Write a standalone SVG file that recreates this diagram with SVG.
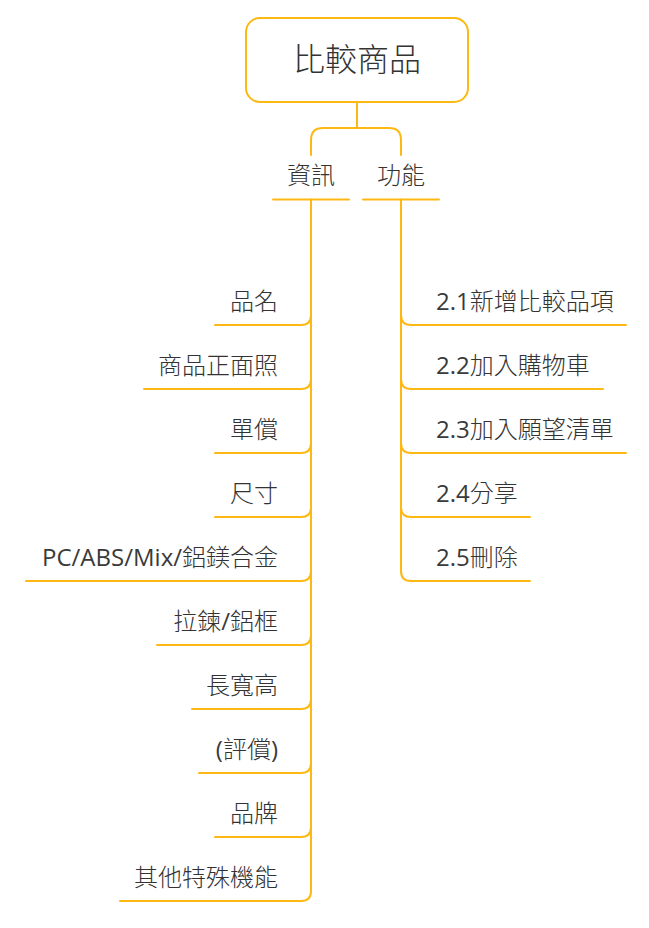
<svg xmlns="http://www.w3.org/2000/svg" width="649" height="928" viewBox="0 0 649 928">
<style>
.ln{fill:none;stroke:#FDB813;stroke-width:2;stroke-linecap:round}
.t{font-family:"Open Sans","Noto Sans CJK TC",sans-serif;font-size:24px;font-weight:300;fill:#333333}
.l{font-weight:400;fill:#3a3a3a}
.r{text-anchor:end}
.root{font-size:32px;text-anchor:middle}
.c{text-anchor:middle}
</style>
<rect width="649" height="928" fill="#ffffff"/>
<g id="connectors">
<path class="ln" d="M357,102 V128"/>
<path class="ln" d="M311,155 V140 Q311,128 323,128 H389 Q401,128 401,140 V155"/>
<path class="ln" d="M311,199.5 V891 Q311,901 301,901 H120"/>
<path class="ln" d="M311,315 Q311,325 301,325 H215"/>
<path class="ln" d="M311,379 Q311,389 301,389 H144"/>
<path class="ln" d="M311,443 Q311,453 301,453 H215"/>
<path class="ln" d="M311,507 Q311,517 301,517 H215"/>
<path class="ln" d="M311,571 Q311,581 301,581 H26"/>
<path class="ln" d="M311,635 Q311,645 301,645 H157"/>
<path class="ln" d="M311,699 Q311,709 301,709 H192"/>
<path class="ln" d="M311,763 Q311,773 301,773 H199"/>
<path class="ln" d="M311,827 Q311,837 301,837 H215"/>
<path class="ln" d="M401,199.5 V571 Q401,581 411,581 H530"/>
<path class="ln" d="M401,315 Q401,325 411,325 H626"/>
<path class="ln" d="M401,379 Q401,389 411,389 H603"/>
<path class="ln" d="M401,443 Q401,453 411,453 H626"/>
<path class="ln" d="M401,507 Q401,517 411,517 H530"/>
</g>
<g id="root">
<rect x="246" y="18" width="222" height="84" rx="14" fill="#ffffff" stroke="#FDB813" stroke-width="2"/>
<text class="t root" x="357" y="71">比較商品</text>
</g>
<g id="info">
<text class="t c" x="311" y="184">資訊</text>
<path class="ln" d="M273,199.5 H349"/>
</g>
<g id="func">
<text class="t c" x="401" y="184">功能</text>
<path class="ln" d="M363,199.5 H439"/>
</g>
<g id="n1"><text class="t r" x="278" y="310">品名</text></g>
<g id="n2"><text class="t r" x="278" y="374">商品正面照</text></g>
<g id="n3"><text class="t r" x="278" y="438">單償</text></g>
<g id="n4"><text class="t r" x="278" y="502">尺寸</text></g>
<g id="n5"><text class="t r" x="278" y="566"><tspan class="l">PC/ABS/Mix/</tspan>鋁鎂合金</text></g>
<g id="n6"><text class="t r" x="278" y="630">拉鍊<tspan class="l">/</tspan>鋁框</text></g>
<g id="n7"><text class="t r" x="278" y="694">長寬高</text></g>
<g id="n8"><text class="t r" x="278" y="758"><tspan class="l">(</tspan>評償<tspan class="l">)</tspan></text></g>
<g id="n9"><text class="t r" x="278" y="822">品牌</text></g>
<g id="n10"><text class="t r" x="278" y="886">其他特殊機能</text></g>
<g id="f1"><text class="t" x="436" y="310"><tspan class="l">2.1</tspan>新增比較品項</text></g>
<g id="f2"><text class="t" x="436" y="374"><tspan class="l">2.2</tspan>加入購物車</text></g>
<g id="f3"><text class="t" x="436" y="438"><tspan class="l">2.3</tspan>加入願望清單</text></g>
<g id="f4"><text class="t" x="436" y="502"><tspan class="l">2.4</tspan>分享</text></g>
<g id="f5"><text class="t" x="436" y="566"><tspan class="l">2.5</tspan>刪除</text></g>
</svg>
